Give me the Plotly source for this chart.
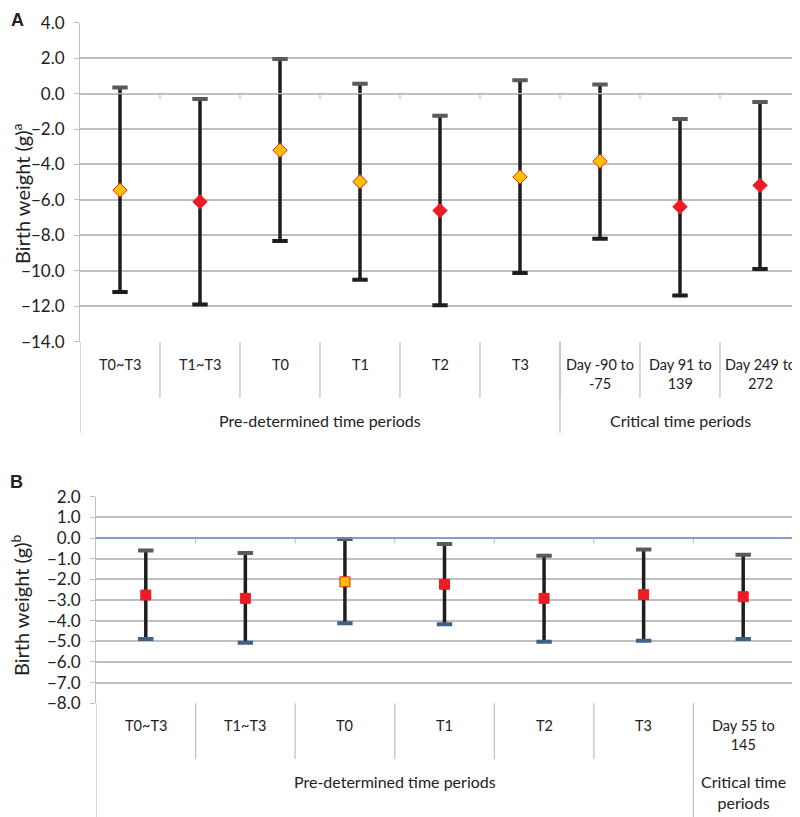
import plotly.graph_objects as go

# Panel A: birth weight change (g) per exposure window
a_labels = ["T0~T3", "T1~T3", "T0", "T1", "T2", "T3",
            "Day -90 to<br>-75", "Day 91 to<br>139", "Day 249 to<br>272"]
a_est = [-5.45, -6.10, -3.20, -4.97, -6.60, -4.70, -3.82, -6.38, -5.18]
a_low = [-11.20, -11.90, -8.32, -10.50, -11.95, -10.12, -8.19, -11.40, -9.90]
a_up = [0.35, -0.30, 1.95, 0.56, -1.25, 0.75, 0.51, -1.43, -0.47]
a_signif = [False, True, False, False, True, False, False, True, True]
a_groups = [("Pre-determined time periods", 0, 5), ("Critical time periods", 6, 8)]

# Panel B
b_labels = ["T0~T3", "T1~T3", "T0", "T1", "T2", "T3", "Day 55 to<br>145"]
b_est = [-2.76, -2.92, -2.12, -2.24, -2.92, -2.74, -2.84]
b_low = [-4.89, -5.07, -4.13, -4.17, -5.02, -4.97, -4.89]
b_up = [-0.60, -0.73, -0.05, -0.29, -0.86, -0.55, -0.81]
b_signif = [True, True, False, True, True, True, True]
b_groups = [("Pre-determined time periods", 0, 5), ("Critical time<br>periods", 6, 6)]

W, H = 800, 817
OFF_X, OFF_Y = 8, 8  # page body margin seen in the screenshot
FONT = "Lato"
RED = "#ED1C24"
ORANGE = "#FFC000"
GRID = "#BFBFBF"
TXT = "#222222"


def px(p):
    return (p - OFF_X) / W


def py(p):
    return 1 - (p - OFF_Y) / H


fig = go.Figure()
shapes = []
annotations = []


def add_panel(xa, ya, labels, est, low, up, signif, symbol, msize, lowcap):
    xs = list(range(len(labels)))
    fig.add_trace(go.Scatter(
        x=xs, y=est, xaxis=xa, yaxis=ya, mode="markers",
        error_y=dict(type="data", symmetric=False,
                     array=[u - e for u, e in zip(up, est)],
                     arrayminus=[e - l for e, l in zip(est, low)],
                     color="#1E1E1E", thickness=3.5, width=0),
        marker=dict(size=0.1, color="rgba(0,0,0,0)"),
        hoverinfo="skip", showlegend=False))
    fig.add_trace(go.Scatter(
        x=xs, y=up, xaxis=xa, yaxis=ya, mode="markers",
        marker=dict(symbol="line-ew", size=11, line=dict(width=4, color="#5A5A5A")),
        hoverinfo="skip", showlegend=False))
    fig.add_trace(go.Scatter(
        x=xs, y=low, xaxis=xa, yaxis=ya, mode="markers",
        marker=dict(symbol="line-ew", size=11, line=dict(width=4, color=lowcap)),
        hoverinfo="skip", showlegend=False))
    fig.add_trace(go.Scatter(
        x=xs, y=est, xaxis=xa, yaxis=ya, mode="markers",
        marker=dict(symbol=symbol, size=msize,
                    color=[RED if s else ORANGE for s in signif],
                    line=dict(width=1, color=RED)),
        hoverinfo="skip", showlegend=False))


add_panel("x", "y", a_labels, a_est, a_low, a_up, a_signif, "diamond", 11, "#1E1E1E")
add_panel("x2", "y2", b_labels, b_est, b_low, b_up, b_signif, "square", 10, "#3D6286")


def category_band(xref, yref, labels, groups, ybot, y1, y2, ylab1, ylab2, zcolor, tick_dy):
    n = len(labels)
    # level-1 boundaries and the small ticks on the zero line
    for k in range(1, n):
        shapes.append(dict(type="line", xref=xref, yref="paper", x0=k - 0.5, x1=k - 0.5,
                           y0=py(ybot), y1=py(y1), line=dict(color=GRID, width=1.2)))
        shapes.append(dict(type="line", xref=xref, yref=yref, x0=k - 0.5, x1=k - 0.5,
                           y0=0, y1=-tick_dy, line=dict(color=GRID, width=1.2)))
    # group boundaries
    edges = [-0.5] + [g[2] + 0.5 for g in groups]
    for e in edges:
        shapes.append(dict(type="line", xref=xref, yref="paper", x0=e, x1=e,
                           y0=py(ybot), y1=py(y2), line=dict(color=GRID, width=1.2)))
    for k, lab in enumerate(labels):
        annotations.append(dict(xref=xref, yref="paper", x=k, y=py(ylab1), text=lab,
                                showarrow=False, yanchor="top",
                                font=dict(family=FONT, size=14.5, color=TXT)))
    for name, g0, g1 in groups:
        annotations.append(dict(xref=xref, yref="paper", x=(g0 + g1) / 2, y=py(ylab2),
                                text=name, showarrow=False, yanchor="top",
                                font=dict(family=FONT, size=16, color=TXT)))
    # horizontal axis line at zero
    shapes.append(dict(type="line", xref=xref + " domain", yref=yref, x0=0, x1=1, y0=0, y1=0,
                       line=dict(color=zcolor, width=1.3)))


category_band("x", "y", a_labels, a_groups, 341.7, 398, 433, 354, 409, GRID, 0.3)
category_band("x2", "y2", b_labels, b_groups, 703.3, 759, 817, 715, 770, "#6F94C4", 0.25)

for txt, x, y in [("<b>A</b>", 9, 8), ("<b>B</b>", 8, 470)]:
    annotations.append(dict(xref="paper", yref="paper", x=px(x), y=py(y), text=txt,
                            showarrow=False, xanchor="left", yanchor="top",
                            font=dict(family="Liberation Sans", size=18, color=TXT)))
for txt, x, y in [("Birth weight (g)<sup>a</sup>", 21, 194),
                  ("Birth weight (g)<sup>b</sup>", 20, 605)]:
    annotations.append(dict(xref="paper", yref="paper", x=px(x), y=py(y), text=txt,
                            textangle=-90, showarrow=False, xanchor="center", yanchor="middle",
                            font=dict(family=FONT, size=20, color=TXT)))

yax = dict(showgrid=True, gridcolor=GRID, gridwidth=1.5, zeroline=False, automargin=False,
           showline=True, linecolor=GRID, linewidth=1.2, ticks="outside", ticklen=5,
           tickcolor=GRID, tickformat=".1f", ticklabelstandoff=6,
           tickfont=dict(family=FONT, size=17, color=TXT))
xax = dict(showgrid=False, zeroline=False, showticklabels=False, ticks="", showline=False,
           automargin=False)

fig.update_layout(
    width=W, height=H, margin=dict(l=0, r=0, t=0, b=0, autoexpand=False),
    paper_bgcolor="white", plot_bgcolor="white",
    xaxis=dict(xax, domain=[px(80), px(800)], range=[-0.5, len(a_labels) - 0.5], anchor="y"),
    yaxis=dict(yax, domain=[py(341.7), py(22.7)], range=[-14, 4], dtick=2, anchor="x"),
    xaxis2=dict(xax, domain=[px(96), px(793)], range=[-0.5, len(b_labels) - 0.5], anchor="y2"),
    yaxis2=dict(yax, domain=[py(703.3), py(496.7)], range=[-8, 2], dtick=1, anchor="x2"),
    shapes=shapes, annotations=annotations, hovermode=False,
)

fig.write_html("out.html", config={"displayModeBar": False})
